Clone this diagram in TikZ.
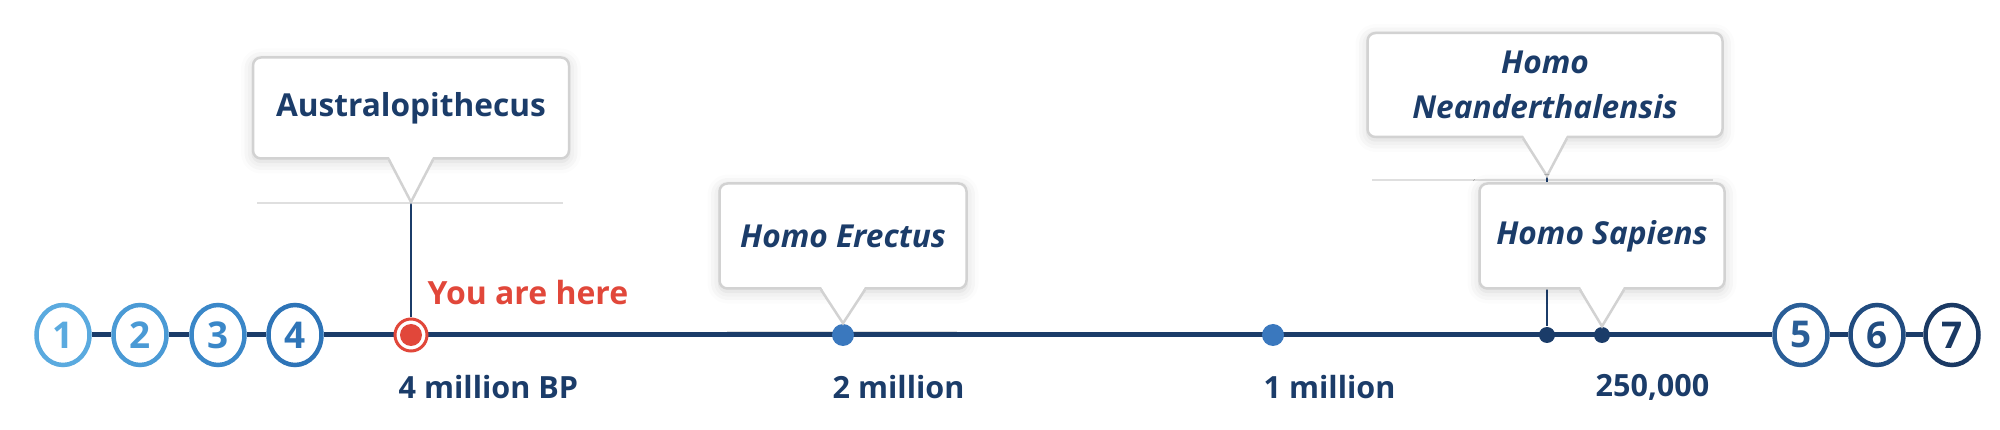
\documentclass[tikz,border=0pt]{standalone}
\usepackage{fontspec}
\setmainfont{Open Sans}
\usetikzlibrary{shapes.geometric,shadows.blur}

\definecolor{navy}{HTML}{1B3C69}
\definecolor{herered}{HTML}{E1473A}
\definecolor{dotblue}{HTML}{3A78BE}
\definecolor{stageA}{HTML}{5AAADF}
\definecolor{stageB}{HTML}{4A9AD5}
\definecolor{stageC}{HTML}{3A87C8}
\definecolor{stageD}{HTML}{2E74B7}
\definecolor{stageE}{HTML}{2A5E97}
\definecolor{stageF}{HTML}{214C80}
\definecolor{stageG}{HTML}{1A3963}

\tikzset{bubble/.style = {draw=gray!35, fill=white, rounded corners=0.8mm, line width=0.25mm,
           blur shadow={shadow xshift=0mm, shadow yshift=-0.3mm, shadow blur radius=1.2mm, shadow opacity=18},
           font=\fontsize{9}{13}\selectfont\bfseries, text=navy, align=center, inner sep=0pt}}
\tikzset{era/.style = {font=\fontsize{8.7}{11}\selectfont\bfseries, text=navy, anchor=west, inner sep=0pt}}
\tikzset{stage/.style = {ellipse, draw=#1, line width=0.45mm, fill=white, minimum width=5.3mm,
           minimum height=6mm, inner sep=0pt, text=#1, font=\fontsize{10.5}{12}\selectfont\bfseries}}
\tikzset{ground/.style = {gray!25, line width=0.2mm}}
\tikzset{pin/.style = {navy, line width=0.2mm}}
\tikzset{mark dot/.style = {circle, fill=#1, minimum size=2.2mm, inner sep=0pt}}

% callout beak: box, tip
\newcommand\beak[2]{%
  \fill[white] ([xshift=-2.2mm,yshift=0.3mm]#1.south) -- (#2) -- ([xshift=2.2mm,yshift=0.3mm]#1.south) -- cycle;
  \draw[gray!35, line width=0.25mm] ([xshift=-2.2mm]#1.south) -- (#2) -- ([xshift=2.2mm]#1.south);}

\begin{document}
\begin{tikzpicture}[x=0.1mm, y=-0.1mm]
  \useasboundingbox (0,0) rectangle (2000,430);

  % ground lines under the callouts
  \draw [ground] (257,203) -- (563,203);
  \draw [ground] (727,332) -- (957,332);
  \draw [ground] (1372,180) -- (1713,180);
  \draw [ground] (1483,333) -- (1717,333);

  % stages
  \foreach \n/\x/\c in {1/63/stageA, 2/140/stageB, 3/218/stageC, 4/295/stageD,
                        5/1801/stageE, 6/1877/stageF, 7/1952/stageG}
    \node [stage=\c] (s\n) at (\x,335) {\n};
  \draw [navy, line width=0.5mm] (s1) -- (s2) -- (s3) -- (s4) -- (s5) -- (s6) -- (s7);

  % marks on the line
  \node [circle, draw=herered, fill=white, line width=0.3mm, minimum size=3.2mm, inner sep=0pt,
         path picture={\fill[herered] (path picture bounding box.center) circle (1.1mm);}] (here) at (411,335) {};
  \node [mark dot=dotblue] (erectusDot) at (843,335) {};
  \node [mark dot=dotblue] (millionDot) at (1273,335) {};
  \node [mark dot=navy, minimum size=1.6mm] (neanderDot) at (1547,335) {};
  \node [mark dot=navy, minimum size=1.6mm] (sapiensDot) at (1602,335) {};

  % callouts
  \coordinate (austroTip) at (411,202);
  \coordinate (neanderTip) at (1547,176);
  \draw [pin] (austroTip) -- (here);
  \draw [pin] (neanderTip) -- (neanderDot);

  \node [bubble, minimum width=31.6mm, minimum height=10.1mm] (austro) at (411,108) {Australopithecus};
  \beak{austro}{austroTip}
  \node [bubble, minimum width=24.7mm, minimum height=10.5mm] (erectus) at (843,236) {\itshape Homo Erectus};
  \beak{erectus}{erectusDot.north}
  \node [bubble, minimum width=35.5mm, minimum height=10.4mm] (neander) at (1545,85) {\itshape Homo\\\itshape Neanderthalensis};
  \beak{neander}{neanderTip}
  \node [bubble, minimum width=24.5mm, minimum height=10.5mm] (sapiens) at (1602,236) {\itshape Homo Sapiens};
  \beak{sapiens}{sapiensDot.north}

  % labels
  \node [era, text=herered, font=\fontsize{9.1}{11}\selectfont\bfseries] (you) at (427,293) {You are here};
  \node [era] (age4) at (398,387) {4 million BP};
  \node [era] (age2) at (832,387) {2 million};
  \node [era] (age1) at (1263,387) {1 million};
  \node [era] (age025) at (1595,387) {250,000};
\end{tikzpicture}
\end{document}
